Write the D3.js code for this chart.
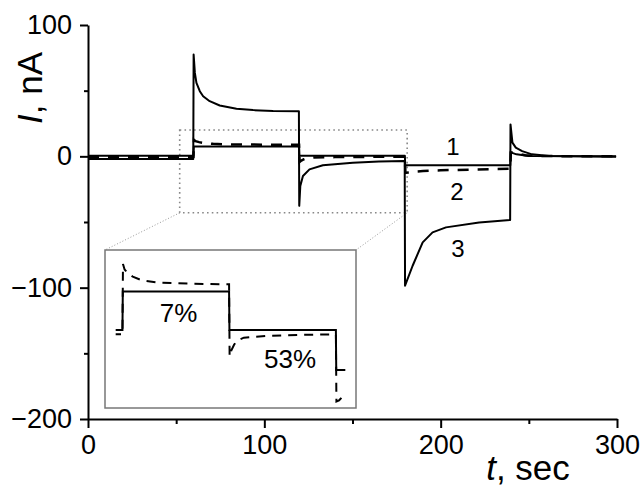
<!DOCTYPE html>
<html>
<head>
<meta charset="utf-8">
<script src="https://cdn.jsdelivr.net/npm/d3@7"></script>
<style>
  body { margin: 0; background: #fff; }
  text { font-family: "Liberation Sans", Arial, sans-serif; fill: #000; }
</style>
</head>
<body>
<div id="chart"></div>
<script>
// time (sec) / current (nA)
const curve1 = [
  [0, 0.5], [59.8, 0.5], [60, 7.5], [119.7, 7.5], [119.9, 0.5], [179.7, 0.5],
  [179.9, -6.8], [239.5, -6.8], [239.7, 3], [243, 1.5], [250, 0.3], [299.5, 0]
];
const curve2 = [
  [0, -0.3], [59.8, -0.3], [60.1, 12.5], [61, 11.5], [63, 10.8], [65.6, 10.2],
  [71, 9.5], [80, 9.1], [100, 8.9], [119.7, 8.8],
  [120, -4.3], [121, -3.2], [122.5, -2.2], [124, -1.5], [128, -0.9], [140, -0.6],
  [160, -0.4], [179.7, -0.3],
  [180, -12.5], [181.5, -12.3], [183, -11.8], [190, -11.2], [200, -10.6], [220, -10], [239.5, -9.5],
  [239.8, 3], [243, 2], [248, 0.8], [255, 0.2], [299.5, 0]
];
const curve3 = [
  [0, -2], [59.7, -2], [59.9, 77.5], [60.6, 63.5], [61.5, 56], [63.4, 49.6], [65.3, 45.8],
  [69, 42], [74.7, 38.7], [84.2, 36.2], [93.6, 35.2], [105, 34.6], [119.6, 34.4],
  [119.8, -37.7], [120.4, -22.5], [121.9, -15], [125.6, -9.9], [133.2, -6.8], [150.2, -4.8],
  [165, -4], [179.6, -3.6],
  [179.8, -98.5], [184.1, -83.3], [189.8, -65.5], [195.4, -57.9], [203, -54.1], [221.8, -50.3], [239.4, -48.4],
  [239.6, 24.3], [240.7, 10.4], [242.6, 6.6], [246.2, 4.0], [251.8, 1.5], [261.5, 0.2], [299.5, -0.3]
];

const xMajor = [0, 100, 200, 300];
const xMinor = [50, 150, 250];
const yMajor = [100, 0, -100, -200];
const yMinor = [50, -50, -150];

const zoomBox = { t0: 52, t1: 181, i0: 20, i1: -43 };  // dotted area in main plot
const insetRange = [56, 185];                           // time shown in the inset

const width = 642;
const height = 486;

const svg = d3.select("#chart")
  .append("svg")
  .attr("width", width)
  .attr("height", height);

const x = d3.scaleLinear().domain([0, 300]).range([88, 617]);
const y = d3.scaleLinear().domain([-200, 100]).range([419, 25]);

// inset scales
const xi = d3.scaleLinear().domain([50, 191]).range([105, 356]);
const yi = d3.scaleLinear().domain([-13.7, 15.05]).range([408, 250]);

const line = d3.line().x((d) => x(d[0])).y((d) => y(d[1]));
const lineInset = d3.line().x((d) => xi(d[0])).y((d) => yi(d[1]));

// dotted zoom area
svg.append("rect")
  .attr("x", x(zoomBox.t0))
  .attr("y", y(zoomBox.i0))
  .attr("width", x(zoomBox.t1) - x(zoomBox.t0))
  .attr("height", y(zoomBox.i1) - y(zoomBox.i0))
  .attr("fill", "none")
  .attr("stroke", "#888")
  .attr("stroke-width", 1.6)
  .attr("stroke-dasharray", "1.6,3.2");

// connectors to inset
svg.append("line")
  .attr("x1", x(zoomBox.t0)).attr("y1", y(zoomBox.i1))
  .attr("x2", xi.range()[0]).attr("y2", yi.range()[1])
  .attr("stroke", "#999").attr("stroke-width", 1).attr("stroke-dasharray", "1,2");
svg.append("line")
  .attr("x1", x(zoomBox.t1)).attr("y1", y(zoomBox.i1))
  .attr("x2", xi.range()[1]).attr("y2", yi.range()[1])
  .attr("stroke", "#999").attr("stroke-width", 1).attr("stroke-dasharray", "1,2");

// main curves
svg.append("path")
  .datum(curve1)
  .attr("fill", "none")
  .attr("stroke", "#000")
  .attr("stroke-width", 2)
  .attr("stroke-linejoin", "round")
  .attr("d", line);

svg.append("path")
  .datum(curve3)
  .attr("fill", "none")
  .attr("stroke", "#000")
  .attr("stroke-width", 2)
  .attr("stroke-linejoin", "round")
  .attr("d", line);

svg.append("path")
  .datum(curve2)
  .attr("fill", "none")
  .attr("stroke", "#000")
  .attr("stroke-width", 2.5)
  .attr("stroke-dasharray", "11,9")
  .attr("d", line);

// axes
const axisY = svg.append("g")
  .attr("transform", "translate(" + x(0) + ",0)")
  .call(d3.axisLeft(y).tickValues(yMajor).tickSize(8).tickSizeOuter(0).tickPadding(8));
svg.append("g")
  .attr("transform", "translate(" + x(0) + ",0)")
  .call(d3.axisLeft(y).tickValues(yMinor).tickSize(4).tickFormat(""))
  .select(".domain").remove();

const axisX = svg.append("g")
  .attr("transform", "translate(0," + y(-200) + ")")
  .call(d3.axisBottom(x).tickValues(xMajor).tickSize(9).tickSizeOuter(0).tickPadding(7));
svg.append("g")
  .attr("transform", "translate(0," + y(-200) + ")")
  .call(d3.axisBottom(x).tickValues(xMinor).tickSize(5).tickFormat(""))
  .select(".domain").remove();

svg.selectAll(".domain").attr("stroke", "#000").attr("stroke-width", 2);
svg.selectAll(".tick line").attr("stroke", "#000").attr("stroke-width", 2);
svg.selectAll(".tick text")
  .attr("font-family", "Liberation Sans, Arial, sans-serif")
  .attr("font-size", 27)
  .attr("fill", "#000");

// axis titles
const yTitle = svg.append("text")
  .attr("transform", "translate(42,88) rotate(-90)")
  .attr("text-anchor", "middle")
  .attr("font-size", 35);
yTitle.append("tspan").attr("font-style", "italic").text("I");
yTitle.append("tspan").text(", nA");

const xTitle = svg.append("text")
  .attr("x", 528)
  .attr("y", 480)
  .attr("text-anchor", "middle")
  .attr("font-size", 35);
xTitle.append("tspan").attr("font-style", "italic").text("t");
xTitle.append("tspan").text(", sec");

// curve numbers
svg.append("text").attr("x", 453).attr("y", 155).attr("text-anchor", "middle")
  .attr("font-size", 24).text("1");
svg.append("text").attr("x", 457).attr("y", 200).attr("text-anchor", "middle")
  .attr("font-size", 24).text("2");
svg.append("text").attr("x", 458).attr("y", 257).attr("text-anchor", "middle")
  .attr("font-size", 24).text("3");

// inset
const inset = svg.append("g");
inset.append("rect")
  .attr("x", xi.range()[0])
  .attr("y", yi.range()[1])
  .attr("width", xi.range()[1] - xi.range()[0])
  .attr("height", yi.range()[0] - yi.range()[1])
  .attr("fill", "#fff")
  .attr("stroke", "#777")
  .attr("stroke-width", 1.5);

svg.append("clipPath")
  .attr("id", "insetClip")
  .append("rect")
  .attr("x", xi(insetRange[0]))
  .attr("y", yi.range()[1])
  .attr("width", xi(insetRange[1]) - xi(insetRange[0]))
  .attr("height", yi.range()[0] - yi.range()[1]);

const insetLines = inset.append("g").attr("clip-path", "url(#insetClip)");
insetLines.append("path")
  .datum(curve1)
  .attr("fill", "none")
  .attr("stroke", "#000")
  .attr("stroke-width", 2)
  .attr("d", lineInset);
insetLines.append("path")
  .datum(curve2)
  .attr("fill", "none")
  .attr("stroke", "#000")
  .attr("stroke-width", 2)
  .attr("stroke-dasharray", "9,7")
  .attr("d", lineInset);

inset.append("text").attr("x", 178.5).attr("y", 321.7).attr("text-anchor", "middle")
  .attr("font-size", 26).text("7%");
inset.append("text").attr("x", 290).attr("y", 368).attr("text-anchor", "middle")
  .attr("font-size", 26).text("53%");
</script>
</body>
</html>
